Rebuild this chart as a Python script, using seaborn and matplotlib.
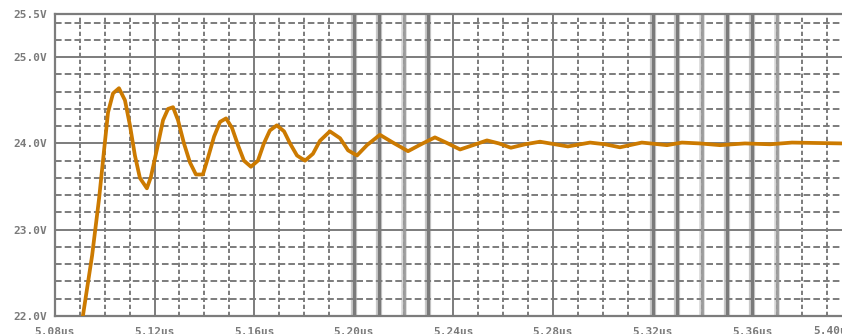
import matplotlib
matplotlib.use("Agg")
import matplotlib.pyplot as plt
from matplotlib.ticker import MultipleLocator, FixedLocator
import seaborn as sns
import pandas as pd

# ---- data ----
time_us = [5.0912, 5.0949, 5.0977, 5.0997, 5.1013, 5.1033, 5.1057, 5.1081, 5.1101, 5.1121,
           5.1141, 5.1169, 5.1185, 5.1210, 5.1234, 5.1254, 5.1274, 5.1294, 5.1318, 5.1342,
           5.1366, 5.1394, 5.1414, 5.1439, 5.1463, 5.1487, 5.1511, 5.1535, 5.1559, 5.1587,
           5.1615, 5.1639, 5.1663, 5.1691, 5.1720, 5.1744, 5.1772, 5.1804, 5.1836, 5.1864,
           5.1904, 5.1945, 5.1977, 5.2013, 5.2053, 5.2105, 5.2157, 5.2218, 5.2270, 5.2326,
           5.2378, 5.2427, 5.2479, 5.2535, 5.2583, 5.2631, 5.2688, 5.2748, 5.2808, 5.2860,
           5.2949, 5.3009, 5.3069, 5.3157, 5.3258, 5.3318, 5.3390, 5.3471, 5.3571, 5.3672,
           5.3760, 5.3960]
voltage = [22.00, 22.70, 23.36, 23.92, 24.36, 24.58, 24.64, 24.50, 24.21, 23.86,
           23.60, 23.48, 23.61, 23.94, 24.27, 24.40, 24.42, 24.27, 24.00, 23.78,
           23.64, 23.64, 23.83, 24.08, 24.25, 24.29, 24.18, 23.98, 23.80, 23.73,
           23.80, 24.00, 24.15, 24.21, 24.14, 24.00, 23.86, 23.80, 23.88, 24.03,
           24.14, 24.06, 23.92, 23.86, 23.98, 24.10, 24.01, 23.91, 23.99, 24.07,
           24.00, 23.93, 23.98, 24.035, 24.00, 23.95, 23.99, 24.02, 23.99, 23.965,
           24.01, 23.99, 23.955, 24.01, 23.98, 24.01, 24.00, 23.98, 24.00, 23.99,
           24.01, 24.00]

x_ticks = [5.08, 5.12, 5.16, 5.20, 5.24, 5.28, 5.32, 5.36]
x_tick_labels = ["5.08us", "5.12us", "5.16us", "5.20us", "5.24us", "5.28us", "5.32us", "5.36us"]
y_ticks = [22.0, 23.0, 24.0, 25.0, 25.5]
y_tick_labels = ["22.0V", "23.0V", "24.0V", "25.0V", "25.5V"]
last_x_label = "5.40us"

# rendering-artifact heavy grid lines in the reference
heavy_dark = [5.20, 5.21, 5.23, 5.32, 5.33, 5.35, 5.36]
heavy_light = [5.22, 5.34, 5.37]

df = pd.DataFrame({"t": time_us, "v": voltage})

sns.set_style("white")
GRID = "#7c7c7c"
TXT = "#7a7a7a"
ORANGE = "#cc7a00"

W, H = 842, 334
fig = plt.figure(figsize=(W / 100, H / 100), dpi=100)
ax = fig.add_axes([55 / W, (H - 316) / H, 1 - 55 / W, (316 - 14) / H])

ax.set_xlim(5.08, 5.3961)
ax.set_ylim(22.0, 25.5)

ax.xaxis.set_major_locator(FixedLocator(x_ticks))
ax.xaxis.set_minor_locator(MultipleLocator(0.01))
ax.yaxis.set_major_locator(FixedLocator(y_ticks))
ax.yaxis.set_minor_locator(MultipleLocator(0.2))
ax.set_xticklabels(x_tick_labels)
ax.set_yticklabels(y_tick_labels)

ax.grid(True, which="major", color=GRID, linewidth=1.4, linestyle="-", zorder=0)
ax.xaxis.grid(True, which="minor", color=GRID, linewidth=1.4, linestyle=(0, (2.2, 1.4)))
ax.yaxis.grid(True, which="minor", color=GRID, linewidth=1.4, linestyle=(0, (3.4, 1.6)))
ax.set_axisbelow(True)

for xv in heavy_dark:
    ax.axvline(xv, color="#c9c9c9", linewidth=4.5, zorder=0.5)
    ax.axvline(xv, color="#7a7a7a", linewidth=2.3, zorder=0.6)
for xv in heavy_light:
    ax.axvline(xv, color="#d6d6d6", linewidth=4.0, zorder=0.5)
    ax.axvline(xv, color="#9c9c9c", linewidth=2.0, zorder=0.6)

sns.lineplot(data=df, x="t", y="v", ax=ax, sort=False, estimator=None,
             color=ORANGE, linewidth=2.7, zorder=3, clip_on=True)

for side in ["left", "bottom", "top"]:
    ax.spines[side].set_visible(True)
    ax.spines[side].set_color(GRID)
    ax.spines[side].set_linewidth(1.6)
ax.spines["right"].set_visible(False)

ax.tick_params(axis="both", which="major", direction="out", length=3.5, width=1.5,
               color=GRID, labelcolor=TXT, labelsize=8)
ax.tick_params(axis="x", which="major", pad=4.5)
ax.tick_params(axis="y", which="major", pad=2)
ax.tick_params(axis="both", which="minor", length=0)
for lab in ax.get_xticklabels() + ax.get_yticklabels():
    lab.set_fontfamily("DejaVu Sans Mono")
    lab.set_fontweight("bold")

fig.text(813 / W, (H - 326) / H, last_x_label, ha="left", va="top",
         fontsize=8, fontweight="bold", color=TXT, fontfamily="DejaVu Sans Mono")

ax.set_xlabel("")
ax.set_ylabel("")
if ax.get_legend():
    ax.get_legend().remove()

fig.savefig("out.png", dpi=100)
